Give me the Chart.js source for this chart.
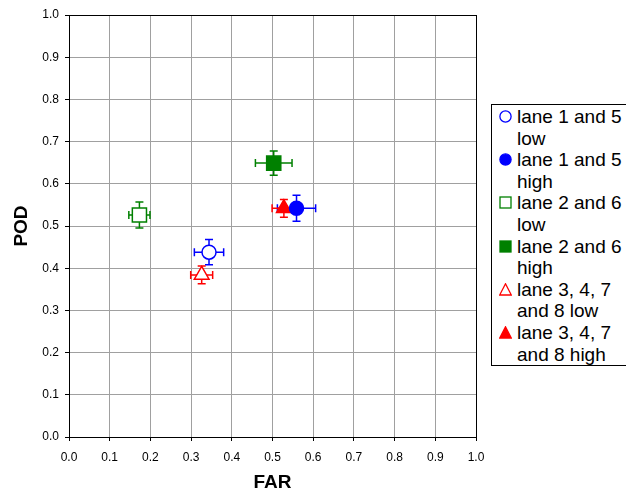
<!DOCTYPE html>
<html lang="en">

<head>
  <meta charset="UTF-8">
  <title>POD vs FAR</title>
  <script src="https://cdn.jsdelivr.net/npm/chart.js"></script>
  <style>
    body { margin: 0; width: 626px; height: 496px; overflow: hidden; background: #fff; font-family: "Liberation Sans", Arial, sans-serif; }
    #box { position: relative; width: 626px; height: 496px; }
    #legenda { position: absolute; left: 491px; top: 104px; width: 150px; border: 1px solid #000; padding-top: 1px; background: #fff; font-size: 19px; line-height: 21.6px; color: #000; }
    .item { position: relative; padding-left: 25px; white-space: nowrap; }
    .item svg { position: absolute; left: 7px; top: 4px; }
  </style>
</head>

<body>
  <div id="box">
    <canvas id="grafico"></canvas>
    <div id="legenda"></div>
  </div>

  <script>
    // dados
    const series = [
      ['lane 1 and 5', 'low'],
      ['lane 1 and 5', 'high'],
      ['lane 2 and 6', 'low'],
      ['lane 2 and 6', 'high'],
      ['lane 3, 4, 7', 'and 8 low'],
      ['lane 3, 4, 7', 'and 8 high']
    ];
    const far = [0.344, 0.559, 0.173, 0.503, 0.326, 0.528];
    const pod = [0.438, 0.542, 0.526, 0.649, 0.384, 0.542];
    const farErro = [0.036, 0.047, 0.026, 0.045, 0.027, 0.029];
    const podErro = [0.030, 0.031, 0.031, 0.029, 0.021, 0.021];

    const cores = ['#0000ff', '#0000ff', '#008000', '#008000', '#ff0000', '#ff0000'];
    const simbolos = ['circle', 'circle', 'rect', 'rect', 'triangle', 'triangle'];
    const cheio = [false, true, false, true, false, true];
    const raios = { circle: 7, rect: 10, triangle: 8.5 };

    // barras de erro desenhadas com as escalas do grafico
    const barrasErro = {
      id: 'barrasErro',
      beforeDatasetsDraw(chart) {
        const ctx = chart.ctx;
        const x = chart.scales.x;
        const y = chart.scales.y;
        const cap = 4;
        ctx.save();
        ctx.lineWidth = 1.5;
        for (let i = 0; i < far.length; i++) {
          const px = x.getPixelForValue(far[i]);
          const py = y.getPixelForValue(pod[i]);
          const x1 = x.getPixelForValue(far[i] - farErro[i]);
          const x2 = x.getPixelForValue(far[i] + farErro[i]);
          const y1 = y.getPixelForValue(pod[i] - podErro[i]);
          const y2 = y.getPixelForValue(pod[i] + podErro[i]);
          ctx.strokeStyle = cores[i];
          ctx.beginPath();
          ctx.moveTo(x1, py); ctx.lineTo(x2, py);
          ctx.moveTo(x1, py - cap); ctx.lineTo(x1, py + cap);
          ctx.moveTo(x2, py - cap); ctx.lineTo(x2, py + cap);
          ctx.moveTo(px, y1); ctx.lineTo(px, y2);
          ctx.moveTo(px - cap, y1); ctx.lineTo(px + cap, y1);
          ctx.moveTo(px - cap, y2); ctx.lineTo(px + cap, y2);
          ctx.stroke();
        }
        ctx.restore();
      }
    };

    const datasets = [];
    for (let i = 0; i < series.length; i++) {
      datasets.push({
        label: series[i].join(' '),
        data: [{ x: far[i], y: pod[i] }],
        pointStyle: simbolos[i],
        pointRadius: raios[simbolos[i]],
        borderColor: cores[i],
        backgroundColor: cheio[i] ? cores[i] : '#ffffff',
        borderWidth: 1.5
      });
    }

    function corGrade(c) {
      return Math.abs(c.tick.value - 1) < 1e-9 ? '#000000' : '#a0a0a0';
    }

    const fonteTick = { family: '"Liberation Sans", Arial, sans-serif', size: 12 };
    const fonteTitulo = { family: '"Liberation Sans", Arial, sans-serif', size: 19, weight: 'bold' };

    new Chart(document.getElementById('grafico'), {
      type: 'scatter',
      data: { datasets: datasets },
      options: {
        responsive: true,
        maintainAspectRatio: false,
        animation: false,
        events: [],
        layout: { padding: { left: 0, top: 15, right: 150, bottom: 0 } },
        plugins: { legend: { display: false }, tooltip: { enabled: false } },
        scales: {
          x: {
            type: 'linear', min: 0, max: 1,
            afterFit: function (s) { s.height = 59; },
            ticks: { stepSize: 0.1, color: '#000', font: fonteTick, padding: 9, maxRotation: 0, autoSkip: false,
              callback: function (v) { return v.toFixed(1); } },
            grid: { color: corGrade, tickColor: '#000', tickLength: 4 },
            border: { color: '#000', width: 1 },
            title: { display: true, text: 'FAR', color: '#000', font: fonteTitulo, padding: { top: 0, bottom: 1.6 } }
          },
          y: {
            type: 'linear', min: 0, max: 1,
            afterFit: function (s) { s.width = 69; },
            ticks: { stepSize: 0.1, color: '#000', font: fonteTick, padding: 6, autoSkip: false,
              callback: function (v) { return v.toFixed(1); } },
            grid: { color: corGrade, tickColor: '#000', tickLength: 4 },
            border: { color: '#000', width: 1 },
            title: { display: true, text: 'POD', color: '#000', font: fonteTitulo, padding: { top: 10.6, bottom: 0 } }
          }
        }
      },
      plugins: [barrasErro]
    });

    // legenda em html, com os mesmos simbolos
    function simboloSvg(i) {
      const c = cores[i];
      const f = cheio[i] ? c : '#fff';
      let forma = '';
      if (simbolos[i] === 'circle') forma = '<circle cx="6.5" cy="6.5" r="5.6" fill="' + f + '" stroke="' + c + '" stroke-width="1.3"/>';
      if (simbolos[i] === 'rect') forma = '<rect x="1" y="1" width="11" height="11" fill="' + f + '" stroke="' + c + '" stroke-width="1.3"/>';
      if (simbolos[i] === 'triangle') forma = '<polygon points="6.5,0.8 12.3,12 0.7,12" fill="' + f + '" stroke="' + c + '" stroke-width="1.3"/>';
      return '<svg width="13" height="13">' + forma + '</svg>';
    }

    let html = '';
    for (let i = 0; i < series.length; i++) {
      html += '<div class="item">' + simboloSvg(i) + series[i].join('<br>') + '</div>';
    }
    document.getElementById('legenda').innerHTML = html;
  </script>
</body>

</html>
